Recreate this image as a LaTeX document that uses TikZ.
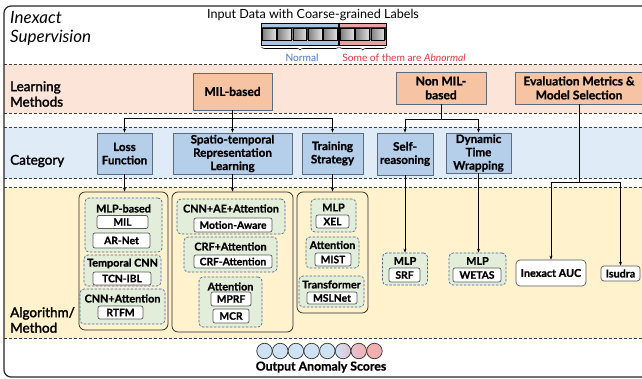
\documentclass[tikz,border=0pt]{standalone}
\usepackage{fontspec}
\setmainfont{Lato}[BoldFeatures={FakeBold=1}]
\newfontfamily\medfont{Lato}[FakeBold=2]
\usetikzlibrary{arrows.meta,decorations.pathreplacing,calc}
\definecolor{peachband}{HTML}{FCE5D8}
\definecolor{peachbox}{HTML}{F6C4A2}
\definecolor{blueband}{HTML}{DFEBF6}
\definecolor{bluebox}{HTML}{B5CFEA}
\definecolor{yellowband}{HTML}{FFF2CD}
\definecolor{greengrp}{HTML}{E2EEDA}
\definecolor{slate}{HTML}{5B6B80}
\definecolor{dashblue}{HTML}{4A6898}
\definecolor{normalblue}{HTML}{4A78C0}
\definecolor{abred}{HTML}{E0353A}
\definecolor{stripblue}{HTML}{A8C6E4}
\definecolor{stripred}{HTML}{E6A3A3}
\definecolor{circblue}{HTML}{CFE2F4}
\definecolor{circred}{HTML}{F0B0B0}
\definecolor{circmid}{HTML}{E2C4D2}
\tikzset{
  fs/.style 2 args={font=\fontsize{#1}{#2}\selectfont},
  bfs/.style 2 args={font=\fontsize{#1}{#2}\selectfont\bfseries},
  peachnode/.style={draw=slate, fill=peachbox, line width=0.8pt, inner sep=0pt, align=center, bfs={12}{14}},
  bluenode/.style={draw=slate, fill=bluebox, line width=0.8pt, inner sep=0pt, align=center, bfs={11.6}{13.3}},
  grp/.style={draw=dashblue, dashed, dash pattern=on 2.5pt off 1.5pt, fill=greengrp, rounded corners=4pt, line width=0.7pt, inner sep=0pt},
  cont/.style={draw=black!85, rounded corners=6pt, line width=0.7pt, inner sep=0pt},
  glabel/.style={inner sep=0pt, bfs={10.8}{12}},
  wbox/.style={draw=black!65, fill=white, rounded corners=2pt, line width=0.7pt, inner sep=0pt, bfs={10.3}{11}},
  sidelabel/.style={anchor=west, align=left, inner sep=0pt, font=\fontsize{13.5}{15.5}\selectfont\medfont},
  band/.style={draw=black!75, dashed, dash pattern=on 3pt off 2pt, line width=0.7pt},
  conn/.style={draw=black, line width=0.7pt},
  arr/.style={conn, -{Stealth[length=4pt,width=3pt]}},
  scorecirc/.style={circle, draw=black!80, line width=0.7pt, minimum size=15.5pt, inner sep=0pt},
}
\begin{document}
\begin{tikzpicture}[x=1pt,y=-1pt]
\useasboundingbox (0,0) rectangle (642,379);
\clip (0,0) rectangle (642,379);
\fill[white] (0,0) rectangle (642,379);
% bands
\fill[peachband] (4,64) rectangle (700,113);
\fill[blueband] (4,127) rectangle (700,178);
\fill[yellowband] (4,187) rectangle (700,338);
\foreach \yy in {64,113,127,178,187,338} \draw[band] (4,\yy) -- (700,\yy);
% outer frame
\draw[black!85, line width=1.2pt, rounded corners=7pt] (4,6) rectangle (700,377);

% side labels
\node[anchor=north west, align=left, inner sep=0pt, font=\fontsize{17}{19.5}\selectfont\itshape] (inexact) at (10,11) {Inexact\\Supervision};
\node[sidelabel] (learn) at (10,94) {Learning\\Methods};
\node[sidelabel] (cat) at (10,161) {Category};
\node[sidelabel] (alg) at (10,320) {Algorithm/\\Method};

% input data
\node[fs={12.6}{14}, inner sep=0pt] (cap) at (313,15) {Input Data with Coarse-grained Labels};
\fill[stripblue] (261,23) rectangle (339,27.5);
\fill[stripred] (339,23) rectangle (386,27.5);
\fill[stripblue] (261,40.5) rectangle (339,45);
\fill[stripred] (339,40.5) rectangle (386,45);
\fill[black!80] (261,27.5) rectangle (386,40.5);
\foreach \i in {0,...,4} {
  \shade[left color=black!50, right color=black!12, draw=black, line width=0.3pt] ({262.3+\i*15.2},28.3) rectangle ({276.2+\i*15.2},39.7);
}
\foreach \i in {0,...,2} {
  \shade[left color=black!50, right color=black!12, draw=black, line width=0.3pt] ({340.3+\i*15.2},28.3) rectangle ({354.2+\i*15.2},39.7);
}
\draw[black, line width=0.8pt] (261,23) rectangle (386,45);
\draw[black, line width=1.4pt] (339,23) -- (339,45);
\draw[black, line width=0.6pt, decorate, decoration={brace, mirror, amplitude=3pt}] (261.5,47) -- (338.5,47);
\draw[black, line width=0.6pt, decorate, decoration={brace, mirror, amplitude=3pt}] (339.5,47) -- (386,47);
\node[fs={10.2}{12}, text=normalblue, inner sep=0pt] (normal) at (302,57.5) {Normal};
\node[fs={10.2}{12}, text=abred, inner sep=0pt] (abn) at (404,57.5) {Some of them are \textit{Abnormal}};

% learning methods
\node[peachnode, minimum width=79pt, minimum height=37pt] (mil) at (232.5,91.5) {MIL-based};
\node[peachnode, minimum width=90pt, minimum height=32pt] (nonmil) at (441,88) {Non MIL-\\based};
\node[peachnode, minimum width=128pt, minimum height=32pt] (eval) at (579,88) {Evaluation Metrics \&\\Model Selection};

% categories
\node[bluenode, minimum width=55pt, minimum height=41pt] (loss) at (124.5,153.5) {Loss\\Function};
\node[bluenode, minimum width=119pt, minimum height=41pt] (spatio) at (232.5,153.5) {Spatio-temporal\\Representation\\Learning};
\node[bluenode, minimum width=61pt, minimum height=41pt] (train) at (332.5,153.5) {Training\\Strategy};
\node[bluenode, minimum width=56pt, minimum height=42pt] (self) at (405,154) {Self-\\reasoning};
\node[bluenode, minimum width=65pt, minimum height=40pt] (dtw) at (478.5,153) {Dynamic\\Time\\Wrapping};

% containers
\node[cont, minimum width=89pt, minimum height=138pt] (cont1) at (123.5,261) {};
\node[cont, minimum width=121pt, minimum height=140pt] (cont2) at (232.5,262) {};
\node[cont, minimum width=71pt, minimum height=121pt] (cont3) at (332.5,252.5) {};

% left container groups
\node[grp, minimum width=77pt, minimum height=54pt] (g1) at (123.5,225) {};
\node[glabel] (l1) at (123.5,208.5) {MLP-based};
\node[wbox, minimum width=51pt, minimum height=13pt] (milalg) at (122.5,222) {MIL};
\node[wbox, minimum width=57pt, minimum height=15pt] (arnet) at (121.5,240.5) {AR-Net};
\node[grp, minimum width=77pt, minimum height=31pt] (g2) at (122.5,270.5) {};
\node[glabel] (l2) at (122.5,263.5) {Temporal CNN};
\node[wbox, minimum width=58pt, minimum height=13pt] (tcn) at (122,278.5) {TCN-IBL};
\node[grp, minimum width=85pt, minimum height=35pt] (g3) at (122.5,306.5) {};
\node[glabel] (l3) at (122.5,298.5) {CNN+Attention};
\node[wbox, minimum width=45pt, minimum height=13pt] (rtfm) at (120.5,312.5) {RTFM};

% middle container groups
\node[grp, minimum width=108pt, minimum height=35pt] (g4) at (231,216.5) {};
\node[glabel] (l4) at (231,208.5) {CNN+AE+Attention};
\node[wbox, minimum width=78pt, minimum height=14pt] (motion) at (233,225) {Motion-Aware};
\node[grp, minimum width=93pt, minimum height=35pt] (g5) at (230.5,254.5) {};
\node[glabel] (l5) at (230.5,246.5) {CRF+Attention};
\node[wbox, minimum width=78pt, minimum height=13pt] (crf) at (233,261.5) {CRF-Attention};
\node[grp, minimum width=63pt, minimum height=50pt] (g6) at (230.5,302) {};
\node[glabel] (l6) at (230.5,286.5) {Attention};
\node[wbox, minimum width=40pt, minimum height=14pt] (mprf) at (231,299) {MPRF};
\node[wbox, minimum width=36pt, minimum height=14pt] (mcr) at (231,316) {MCR};

% right container groups
\node[grp, minimum width=45pt, minimum height=33pt] (g7) at (333.5,215.5) {};
\node[glabel] (l7) at (333.5,207.5) {MLP};
\node[wbox, minimum width=33pt, minimum height=13pt] (xel) at (332.5,221.5) {XEL};
\node[grp, minimum width=53pt, minimum height=31pt] (g8) at (332.5,252.5) {};
\node[glabel] (l8) at (332.5,245) {Attention};
\node[wbox, minimum width=36pt, minimum height=13pt] (mist) at (333,259.5) {MIST};
\node[grp, minimum width=65pt, minimum height=31pt] (g9) at (331.5,291.5) {};
\node[glabel] (l9) at (331.5,284.5) {Transformer};
\node[wbox, minimum width=50pt, minimum height=12pt] (msl) at (332,298) {MSLNet};

% non-MIL algorithms
\node[grp, minimum width=45pt, minimum height=32pt] (g10) at (405,269) {};
\node[glabel] (l10) at (405,261) {MLP};
\node[wbox, minimum width=31pt, minimum height=14pt] (srf) at (404.5,275) {SRF};
\node[grp, minimum width=57pt, minimum height=32pt] (g11) at (477.5,269) {};
\node[glabel] (l11) at (477.5,261) {MLP};
\node[wbox, minimum width=48pt, minimum height=14pt] (wetas) at (477,275) {WETAS};

% evaluation
\node[wbox, rounded corners=4pt, minimum width=70pt, minimum height=26pt, bfs={10.8}{12}] (auc) at (551,273) {Inexact AUC};
\node[wbox, rounded corners=3pt, minimum width=39pt, minimum height=15pt, bfs={10.8}{12}] (isudra) at (620.5,273.5) {Isudra};

% connectors: MIL-based
\coordinate (j1) at (232.5,118);
\draw[conn] (mil.south) -- (j1);
\draw[arr] (j1) -| (loss.north);
\draw[arr] (j1) -- (spatio.north);
\draw[arr] (j1) -| (train.north);
% Non MIL
\coordinate (j2) at (441,119);
\draw[conn] (nonmil.south) -- (j2);
\draw[arr] (j2) -| (self.north);
\draw[arr] (j2) -| (dtw.north);
% Eval
\coordinate (j3) at (579,182);
\draw[conn] (eval.south) -- (j3);
\draw[arr] (j3) -| (auc.north);
\draw[arr] (j3) -| (isudra.north);
% category to algorithms
\draw[arr] (loss.south) -- (loss.south |- cont1.north);
\draw[arr] (spatio.south) -- (spatio.south |- cont2.north);
\draw[arr] (train.south) -- (train.south |- cont3.north);
\draw[arr] (self.south) -- (self.south |- g10.north);
\draw[arr] (dtw.south) -- (dtw.south |- g11.north);

% output scores
\foreach \i in {1,...,5} {
  \node[scorecirc, fill=circblue] (c\i) at ({264.5+(\i-1)*15.71},351) {};
}
\node[scorecirc, left color=circblue, right color=circmid] (c6) at ({264.5+5*15.71},351) {};
\node[scorecirc, left color=circmid, right color=circred] (c7) at ({264.5+6*15.71},351) {};
\node[scorecirc, fill=circred] (c8) at ({264.5+7*15.71},351) {};
\node[bfs={12.3}{14}, inner sep=0pt] (out) at (321,367) {Output Anomaly Scores};
\end{tikzpicture}
\end{document}
